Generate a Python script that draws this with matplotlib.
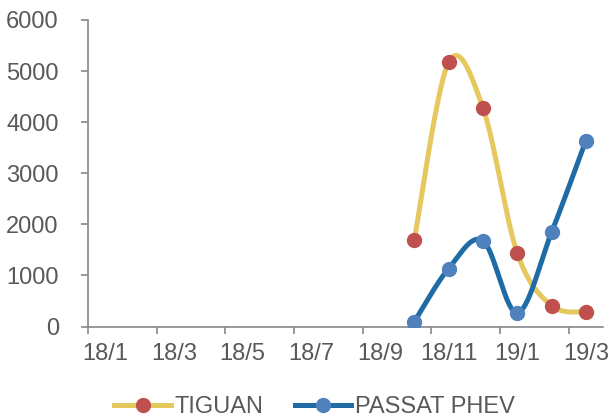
import numpy as np
import matplotlib
matplotlib.use("Agg")
import matplotlib.pyplot as plt
from matplotlib.lines import Line2D

months = ["18/1", "18/2", "18/3", "18/4", "18/5", "18/6", "18/7", "18/8",
          "18/9", "18/10", "18/11", "18/12", "19/1", "19/2", "19/3"]
tiguan = [None]*9 + [1687, 5170, 4285, 1440, 410, 287]
passat = [None]*9 + [92, 1134, 1680, 267, 1843, 3640]

plt.rcParams['font.family'] = ['Liberation Sans', 'DejaVu Sans']
gray = '#595959'
axis_gray = '#888888'

def excel_smooth(xs, ys, n=60):
    xs = np.asarray(xs, float); ys = np.asarray(ys, float)
    P = np.column_stack([xs, ys])
    out = []
    m = len(P)
    for i in range(m - 1):
        p0 = P[i - 1] if i > 0 else P[i]
        p1 = P[i]; p2 = P[i + 1]
        p3 = P[i + 2] if i + 2 < m else P[i + 1]
        c1 = p1 + (p2 - p0) / 6.0
        c2 = p2 - (p3 - p1) / 6.0
        t = np.linspace(0, 1, n)[:, None]
        seg = ((1 - t)**3) * p1 + 3 * ((1 - t)**2) * t * c1 + 3 * (1 - t) * t**2 * c2 + t**3 * p2
        out.append(seg if i == 0 else seg[1:])
    S = np.vstack(out)
    return S[:, 0], S[:, 1]

fig = plt.figure(figsize=(6.11, 4.20), dpi=100)
ax = fig.add_axes([0.144, 0.2226, 0.843, 0.7298])

series = [
    (tiguan, 'TIGUAN', '#E5C85E', '#C0504D'),
    (passat, 'PASSAT PHEV', '#1F6BA5', '#4F81BD'),
]
handles = []
for vals, name, lc, mc in series:
    idx = [i for i, v in enumerate(vals) if v is not None]
    ys = [vals[i] for i in idx]
    sx, sy = excel_smooth(idx, ys)
    ax.plot(sx, sy, color=lc, lw=3.6, solid_capstyle='round', zorder=2)
    ax.plot(idx, ys, 'o', color=mc, ms=10, mec=mc, zorder=3)
    handles.append(Line2D([], [], color=lc, lw=3.6, marker='o', ms=10,
                          mfc=mc, mec=mc, label=name))

ax.set_xlim(-0.5, len(months) - 0.5)
ax.set_ylim(0, 6000)
ax.set_yticks(range(0, 6001, 1000))
ax.set_xticks(range(0, len(months), 2))
ax.set_xticklabels(months[::2])
ax.set_xticks(np.arange(-0.5, len(months), 2), minor=True)

for s in ['top', 'right']:
    ax.spines[s].set_visible(False)
for s in ['left', 'bottom']:
    ax.spines[s].set_color(axis_gray)
    ax.spines[s].set_linewidth(1.2)

ax.tick_params(axis='y', which='major', length=5, color=axis_gray, width=1.2,
               labelsize=17, labelcolor=gray, pad=16)
ax.tick_params(axis='x', which='major', length=0, labelsize=17, labelcolor=gray, pad=12)
ax.tick_params(axis='x', which='minor', length=5, color=axis_gray, width=1.2)

fig.legend(handles=handles, loc='center', bbox_to_anchor=(0.515, 0.03), ncol=2,
           frameon=False, fontsize=17, labelcolor=gray, handlelength=2.4,
           handletextpad=0.17, columnspacing=1.3, borderaxespad=0)

fig.savefig('out.png', dpi=100)
